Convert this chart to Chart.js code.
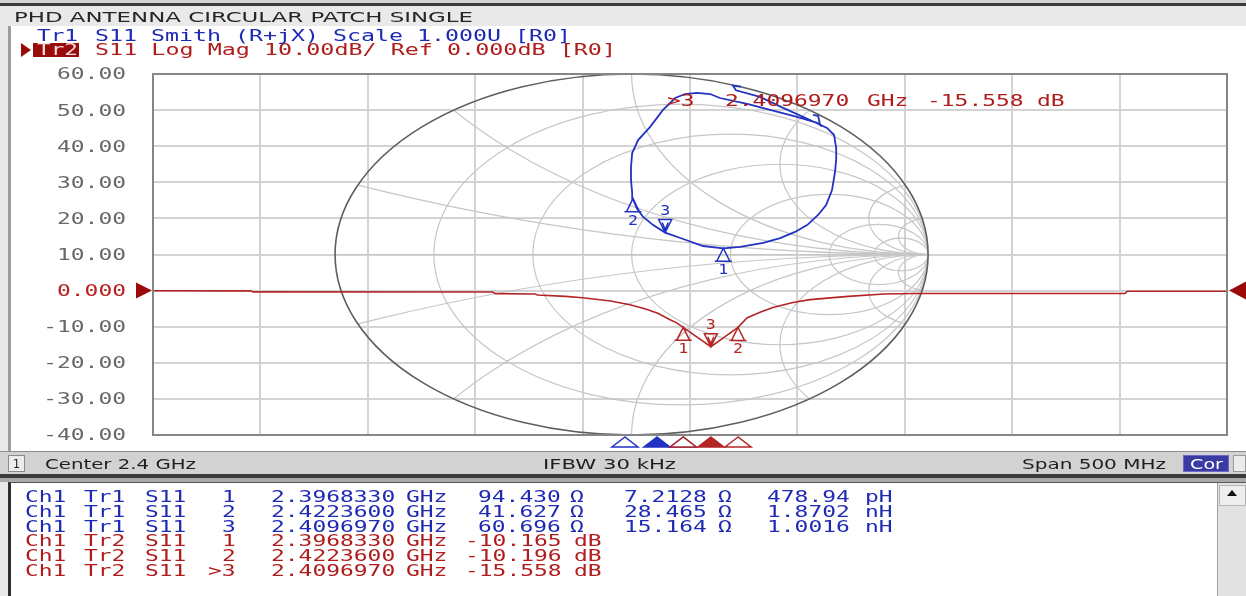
<!DOCTYPE html>
<html>
<head>
<meta charset="utf-8">
<script src="https://cdn.jsdelivr.net/npm/chart.js"></script>
<style>
  html, body { margin: 0; padding: 0; }
  body { width: 1246px; height: 596px; position: relative; overflow: hidden; background: #e9e9e9; }
  .blk { position: absolute; }
  #chart { position: absolute; left: 0; top: 0; }
</style>
</head>
<body>
<!-- window frame and title strip -->
<div class="blk" style="left:0;top:0;width:1246px;height:3px;background:#d4d4d4"></div>
<div class="blk" style="left:0;top:3px;width:1246px;height:3px;background:#3c3c3c"></div>
<div class="blk" style="left:0;top:6px;width:1246px;height:20px;background:#e9e9e9"></div>
<!-- trace panel -->
<div class="blk" style="left:8px;top:26px;width:1238px;height:425px;background:#ffffff;border-left:3px solid #9c9c9c;box-sizing:border-box"></div>
<!-- status bar -->
<div class="blk" style="left:0;top:451px;width:1246px;height:23px;background:#d2d2d2;border-top:1px solid #8c8c8c;box-sizing:border-box"></div>
<div class="blk" style="left:8px;top:455px;width:17px;height:17px;background:#ececec;border:1px solid #8a8a8a;box-sizing:border-box"></div>
<div class="blk" style="left:1183px;top:455px;width:46px;height:17px;background:#3a3aa6;border:1px solid #6a6ac0;box-sizing:border-box"></div>
<div class="blk" style="left:1233px;top:455px;width:13px;height:17px;background:#ececec;border:1px solid #9a9a9a;box-sizing:border-box"></div>
<!-- separator -->
<div class="blk" style="left:0;top:474px;width:1246px;height:4px;background:#3a3a3a"></div>
<div class="blk" style="left:0;top:478px;width:1246px;height:4px;background:#a9a9a9"></div>
<!-- marker table panel -->
<div class="blk" style="left:8px;top:482px;width:1238px;height:114px;background:#ffffff;border-left:3px solid #2e2e2e;border-top:1px solid #5a5a5a;box-sizing:border-box"></div>
<div class="blk" style="left:1217px;top:483px;width:29px;height:113px;background:#e2e2e2;border-left:1px solid #a0a0a0;box-sizing:border-box"></div>
<div class="blk" style="left:1219px;top:485px;width:27px;height:21px;background:#eeeeee;border:1px solid #b4b4b4;box-sizing:border-box"></div>
<div class="blk" style="left:1227px;top:490px;width:0;height:0;border-left:5px solid transparent;border-right:5px solid transparent;border-bottom:6px solid #111"></div>

<canvas id="chart" width="1246" height="596"></canvas>

<script>
// ---- stimulus / response grid ----
const freqGridTicks = [2.15, 2.20, 2.25, 2.30, 2.35, 2.40, 2.45, 2.50, 2.55, 2.60, 2.65];
const dbGridTicks = [-40, -30, -20, -10, 0, 10, 20, 30, 40, 50, 60];
const refLevelDb = 0;

// ---- Tr2: S11 log magnitude (GHz, dB) ----
const logMagFreqGHz = [2.150, 2.1955, 2.1965, 2.3080, 2.3095, 2.3280, 2.3290, 2.3420, 2.3500,
  2.3630, 2.3720, 2.3790, 2.3850, 2.3905, 2.3940, 2.396833, 2.4033, 2.409697, 2.4160,
  2.42236, 2.4265, 2.4326, 2.4386, 2.4479, 2.4559, 2.4736, 2.4903, 2.5043, 2.6025, 2.6035, 2.650];
const logMagDb = [-0.05, -0.08, -0.35, -0.40, -0.85, -0.95, -1.2, -1.6, -2.0,
  -2.9, -3.9, -5.0, -6.3, -8.0, -9.0, -10.165, -12.9, -15.558, -12.9,
  -10.196, -7.6, -6.0, -4.7, -3.3, -2.5, -1.6, -0.95, -0.8, -0.8, -0.2, -0.2];

// ---- Tr1: S11 on the Smith chart (reflection coefficient, real / imaginary) ----
const smithGammaRe = [0.369, 0.342, 0.352, 0.433, 0.511, 0.602, 0.659, 0.683, 0.690, 0.690, 0.686,
  0.676, 0.656, 0.629, 0.592, 0.551, 0.501, 0.444, 0.366, 0.3093, 0.241, 0.174, 0.1133, 0.073,
  0.039, 0.018, 0.0047, 0.002, -0.002, -0.002, 0.002, 0.022, 0.062, 0.106, 0.147, 0.180, 0.221,
  0.265, 0.298, 0.390, 0.467, 0.558, 0.626, 0.636, 0.629, 0.612];
const smithGammaIm = [0.930, 0.935, 0.910, 0.873, 0.812, 0.745, 0.701, 0.662, 0.590, 0.524, 0.457,
  0.357, 0.274, 0.219, 0.163, 0.125, 0.091, 0.064, 0.042, 0.0345, 0.047, 0.086, 0.1215, 0.163,
  0.208, 0.255, 0.3092, 0.341, 0.413, 0.485, 0.562, 0.634, 0.706, 0.801, 0.867, 0.889, 0.895,
  0.889, 0.867, 0.834, 0.801, 0.762, 0.729, 0.717, 0.768, 0.773];

// ---- markers ----
const markerNames = ['1', '2', '3'];
const markerFreqGHz = [2.396833, 2.42236, 2.409697];
const tr1ResistanceOhm = [94.430, 41.627, 60.696];
const tr1ReactanceOhm = [7.2128, 28.465, 15.164];
const tr1EquivValue = [478.94, 1.8702, 1.0016];
const tr1EquivUnit = ['pH', 'nH', 'nH'];
const tr2MagDb = [-10.165, -10.196, -15.558];
const activeMarker = 2;
const tr1FlagFreqGHz = [2.3697, 2.3846, 2.3968];
const z0 = 50;

// ---- Smith chart grid values ----
const smithResistances = [0.2, 0.5, 1, 2, 5, 10];
const smithReactances = [0.2, 0.5, 1, 2, 5, 10];

const tr1Color = '#2232c2';
const tr2Color = '#b42626';
const tr1Text = '#1e2ab4';
const tr2Text = '#b01c1c';
const mono = '"DejaVu Sans Mono", monospace';
const sans = '"DejaVu Sans", sans-serif';

function gammaFromZ(r, x) {
  const a = r / z0 - 1, b = x / z0, c = r / z0 + 1, d = x / z0;
  const den = c * c + d * d;
  return { re: (a * c + b * d) / den, im: (b * c - a * d) / den };
}

// Canvas text squeezed/stretched to a fixed advance per character
function canvasText(ctx, text, x, yc, opt) {
  ctx.save();
  ctx.font = `${opt.weight || 'normal'} ${opt.size}px ${opt.family}`;
  const natural = ctx.measureText(text).width;
  const target = opt.w || text.length * opt.charW;
  const left = opt.align === 'right' ? x - target : opt.align === 'center' ? x - target / 2 : x;
  ctx.translate(left, yc + opt.size * 0.36);
  ctx.scale(target / natural, 1);
  ctx.fillStyle = opt.color;
  ctx.textBaseline = 'alphabetic';
  ctx.fillText(text, 0, 0);
  ctx.restore();
}

// DOM text with the same fitting rule
function placeText(text, x, yc, opt) {
  const el = document.createElement('div');
  el.textContent = text;
  const lh = opt.size + 2;
  el.style.cssText = `position:absolute;left:0;top:0;white-space:pre;font-family:${opt.family};` +
    `font-size:${opt.size}px;line-height:${lh}px;color:${opt.color};transform-origin:0 50%;` +
    (opt.weight ? `font-weight:${opt.weight};` : '');
  document.body.appendChild(el);
  const natural = el.getBoundingClientRect().width;
  const target = opt.w || text.length * opt.charW;
  const left = opt.align === 'right' ? x - target : opt.align === 'center' ? x - target / 2 : x;
  el.style.left = left + 'px';
  el.style.top = (yc - lh / 2) + 'px';
  el.style.transform = `scaleX(${target / natural})`;
  return el;
}

// ---- header, status bar, marker table ----
placeText('PHD ANTENNA CIRCULAR PATCH SINGLE', 14, 17, { family: sans, size: 14, color: '#262626', w: 459 });
placeText('Tr1', 37, 36, { family: mono, size: 15, color: tr1Text, w: 41 });
placeText('S11 Smith (R+jX) Scale 1.000U [R0]', 95, 36, { family: mono, size: 15, color: tr1Text, w: 476 });
(function () {
  const tri = document.createElement('div');
  tri.style.cssText = 'position:absolute;left:21px;top:43px;width:0;height:0;border-top:7px solid transparent;border-bottom:7px solid transparent;border-left:10px solid #9a0a0a';
  document.body.appendChild(tri);
  const box = document.createElement('div');
  box.style.cssText = 'position:absolute;left:33px;top:43px;width:46px;height:14px;background:#9a0c0c';
  document.body.appendChild(box);
})();
placeText('Tr2', 37, 50, { family: mono, size: 15, color: '#f4dede', w: 41 });
placeText('S11 Log Mag 10.00dB/ Ref 0.000dB [R0]', 95, 50, { family: mono, size: 15, color: tr2Text, w: 521 });

placeText('1', 16.5, 463.5, { family: sans, size: 13, color: '#202020', w: 7, align: 'center' });
placeText('Center 2.4 GHz', 45, 463.5, { family: sans, size: 14, color: '#1e1e1e', w: 151 });
placeText('IFBW 30 kHz', 543, 463.5, { family: sans, size: 14, color: '#1e1e1e', w: 133 });
placeText('Span 500 MHz', 1022, 463.5, { family: sans, size: 14, color: '#1e1e1e', w: 144 });
placeText('Cor', 1206, 463.5, { family: sans, size: 14, color: '#ffffff', w: 33, align: 'center' });

(function buildTable() {
  const cw = 13.8;
  const rowY = [497, 512, 527, 541.5, 556, 571];
  const t = (s, x, y, color, align) => placeText(s, x, y, { family: mono, size: 15, color, charW: cw, align });
  markerNames.forEach((m, i) => {
    const y = rowY[i];
    t('Ch1', 25, y, tr1Text); t('Tr1', 84, y, tr1Text); t('S11', 145, y, tr1Text);
    t(m, 236, y, tr1Text, 'right');
    t(markerFreqGHz[i].toFixed(7), 271, y, tr1Text);
    t('GHz', 406, y, tr1Text);
    t(tr1ResistanceOhm[i].toFixed(3), 561, y, tr1Text, 'right');
    t('\u03A9', 570, y, tr1Text);
    t(tr1ReactanceOhm[i] < 10 ? tr1ReactanceOhm[i].toFixed(4) : tr1ReactanceOhm[i].toFixed(3), 707, y, tr1Text, 'right');
    t('\u03A9', 718, y, tr1Text);
    t(tr1EquivValue[i] >= 100 ? tr1EquivValue[i].toFixed(2) : tr1EquivValue[i].toFixed(4), 850, y, tr1Text, 'right');
    t(tr1EquivUnit[i], 865, y, tr1Text);
  });
  markerNames.forEach((m, i) => {
    const y = rowY[3 + i];
    t('Ch1', 25, y, tr2Text); t('Tr2', 84, y, tr2Text); t('S11', 145, y, tr2Text);
    t((i === activeMarker ? '>' : '') + m, 236, y, tr2Text, 'right');
    t(markerFreqGHz[i].toFixed(7), 271, y, tr2Text);
    t('GHz', 406, y, tr2Text);
    t(tr2MagDb[i].toFixed(3), 562, y, tr2Text, 'right');
    t('dB', 574, y, tr2Text);
  });
})();

// ---- plugins ----
const smithGrid = {
  id: 'smithGrid',
  beforeDatasetsDraw(chart) {
    const { ctx } = chart;
    const xs = chart.scales.xs, ys = chart.scales.ys;
    const px = v => xs.getPixelForValue(v), py = v => ys.getPixelForValue(v);
    const kx = px(1) - px(0), ky = py(0) - py(1);
    ctx.save();
    ctx.beginPath();
    ctx.ellipse(px(0), py(0), kx, ky, 0, 0, Math.PI * 2);
    ctx.clip();
    ctx.strokeStyle = '#c6c6c6';
    ctx.lineWidth = 1.2;
    smithResistances.forEach(r => {
      const c = r / (1 + r), rad = 1 / (1 + r);
      ctx.beginPath();
      ctx.ellipse(px(c), py(0), rad * kx, rad * ky, 0, 0, Math.PI * 2);
      ctx.stroke();
    });
    smithReactances.forEach(xv => {
      [xv, -xv].forEach(v => {
        const rad = 1 / Math.abs(v);
        ctx.beginPath();
        ctx.ellipse(px(1), py(1 / v), rad * kx, rad * ky, 0, 0, Math.PI * 2);
        ctx.stroke();
      });
    });
    ctx.beginPath();
    ctx.moveTo(px(-1), py(0));
    ctx.lineTo(px(1), py(0));
    ctx.stroke();
    ctx.restore();
    ctx.save();
    ctx.strokeStyle = '#5e5e5e';
    ctx.lineWidth = 1.6;
    ctx.beginPath();
    ctx.ellipse(px(0), py(0), kx, ky, 0, 0, Math.PI * 2);
    ctx.stroke();
    ctx.restore();
  }
};

function drawMarker(ctx, x, y, label, down, color) {
  const h = 13, hw = 6.5;
  ctx.save();
  ctx.strokeStyle = color;
  ctx.lineWidth = 1.5;
  ctx.beginPath();
  if (down) {
    ctx.moveTo(x, y); ctx.lineTo(x - hw, y - h); ctx.lineTo(x + hw, y - h); ctx.closePath();
    ctx.moveTo(x - 3, y - h + 3); ctx.lineTo(x, y - 3); ctx.lineTo(x + 3, y - h + 3);
  } else {
    ctx.moveTo(x, y); ctx.lineTo(x - hw, y + h); ctx.lineTo(x + hw, y + h); ctx.closePath();
    ctx.moveTo(x - hw - 2, y + h); ctx.lineTo(x + hw + 2, y + h);
  }
  ctx.stroke();
  ctx.restore();
  canvasText(ctx, label, x, down ? y - 23 : y + 21, { family: mono, size: 14, color, charW: 10, align: 'center' });
}

function flag(ctx, x, top, color, filled) {
  ctx.save();
  ctx.beginPath();
  ctx.moveTo(x, top); ctx.lineTo(x - 13, top + 10); ctx.lineTo(x + 13, top + 10); ctx.closePath();
  ctx.fillStyle = filled ? color : '#ffffff';
  ctx.fill();
  ctx.strokeStyle = color;
  ctx.lineWidth = 1.5;
  ctx.stroke();
  ctx.restore();
}

const overlay = {
  id: 'overlay',
  afterDatasetsDraw(chart) {
    const { ctx } = chart;
    const sx = chart.scales.x, sy = chart.scales.y, xs = chart.scales.xs, ys = chart.scales.ys;
    markerNames.forEach((m, i) => {
      const g = gammaFromZ(tr1ResistanceOhm[i], tr1ReactanceOhm[i]);
      drawMarker(ctx, xs.getPixelForValue(g.re), ys.getPixelForValue(g.im), m, i === activeMarker, tr1Color);
      drawMarker(ctx, sx.getPixelForValue(markerFreqGHz[i]), sy.getPixelForValue(tr2MagDb[i]), m, i === activeMarker, tr2Color);
    });
  },
  afterDraw(chart) {
    const { ctx, chartArea: a } = chart;
    const sx = chart.scales.x, sy = chart.scales.y;
    // plot frame
    ctx.save();
    ctx.strokeStyle = '#868686';
    ctx.lineWidth = 2;
    ctx.strokeRect(a.left, a.top, a.right - a.left, a.bottom - a.top);
    ctx.restore();
    // response labels
    dbGridTicks.forEach(v => {
      const txt = v === 0 ? '0.000' : v.toFixed(2);
      canvasText(ctx, txt, 126, sy.getPixelForValue(v), { family: mono, size: 15, color: v === refLevelDb ? '#b82020' : '#686868', charW: 13.8, align: 'right' });
    });
    // reference level arrows
    const yr = sy.getPixelForValue(refLevelDb);
    ctx.save();
    ctx.fillStyle = '#9a0a0a';
    ctx.beginPath(); ctx.moveTo(a.left - 17, yr - 8); ctx.lineTo(a.left - 17, yr + 8); ctx.lineTo(a.left - 1, yr); ctx.closePath(); ctx.fill();
    ctx.beginPath(); ctx.moveTo(1246, yr - 9); ctx.lineTo(1246, yr + 9); ctx.lineTo(a.right + 2, yr); ctx.closePath(); ctx.fill();
    ctx.restore();
    // stimulus flags below the grid
    [0, 1, 2].forEach(k => flag(ctx, sx.getPixelForValue(tr1FlagFreqGHz[k]), a.bottom + 2, tr1Color, k === 1));
    [0, activeMarker, 1].forEach(i => flag(ctx, sx.getPixelForValue(markerFreqGHz[i]), a.bottom + 2, tr2Color, i === activeMarker));
    // active marker readout
    const am = activeMarker;
    const o = { family: mono, size: 15, color: tr2Text, charW: 13.8 };
    canvasText(ctx, '>' + markerNames[am], 667, 100.5, o);
    canvasText(ctx, markerFreqGHz[am].toFixed(7), 725, 100.5, o);
    canvasText(ctx, 'GHz', 867, 100.5, o);
    canvasText(ctx, tr2MagDb[am].toFixed(3), 927, 100.5, o);
    canvasText(ctx, 'dB', 1037, 100.5, o);
  }
};

const gridTicks = vals => scale => { scale.ticks = vals.map(v => ({ value: v })); };

new Chart(document.getElementById('chart'), {
  type: 'scatter',
  data: {
    datasets: [
      {
        label: 'Tr2 S11 Log Mag',
        data: logMagFreqGHz.map((f, i) => ({ x: f, y: logMagDb[i] })),
        xAxisID: 'x', yAxisID: 'y',
        showLine: true, borderColor: tr2Color, borderWidth: 1.6,
        pointRadius: 0, tension: 0
      },
      {
        label: 'Tr1 S11 Smith',
        data: smithGammaRe.map((g, i) => ({ x: g, y: smithGammaIm[i] })),
        xAxisID: 'xs', yAxisID: 'ys',
        showLine: true, borderColor: tr1Color, borderWidth: 1.8,
        pointRadius: 0, tension: 0
      }
    ]
  },
  options: {
    responsive: false,
    animation: false,
    devicePixelRatio: 1,
    layout: { padding: { left: 153, top: 74, right: 19, bottom: 161 } },
    plugins: { legend: { display: false }, tooltip: { enabled: false } },
    scales: {
      x: {
        type: 'linear', position: 'bottom', min: 2.15, max: 2.65,
        afterBuildTicks: gridTicks(freqGridTicks),
        ticks: { display: false },
        grid: { color: '#d3d3d3', lineWidth: 2, drawTicks: false },
        border: { display: false }
      },
      y: {
        type: 'linear', position: 'left', min: -40, max: 60,
        afterBuildTicks: gridTicks(dbGridTicks),
        ticks: { display: false },
        grid: { color: '#d3d3d3', lineWidth: 2, drawTicks: false },
        border: { display: false }
      },
      xs: { type: 'linear', display: false, min: -1.614, max: 2.008 },
      ys: { type: 'linear', display: false, min: -1, max: 1 }
    }
  },
  plugins: [smithGrid, overlay]
});
</script>
</body>
</html>
